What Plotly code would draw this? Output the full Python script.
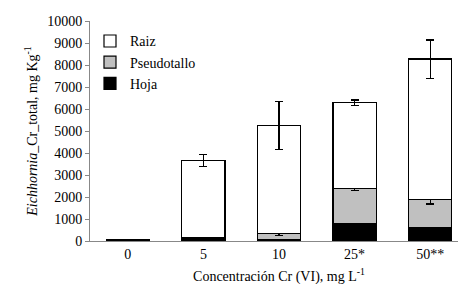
import plotly.graph_objects as go

categories = ["0", "5", "10", "25*", "50**"]
hoja = [80, 60, 50, 810, 590]
hoja_err = [0, 40, 0, 170, 200]
pseudotallo = [0, 80, 300, 1560, 1290]
pseudotallo_err = [0, 0, 110, 80, 200]
raiz = [0, 3520, 4900, 3920, 6390]
raiz_err = [0, 260, 1100, 120, 870]

font = "Times New Roman, Liberation Serif, DejaVu Serif, serif"

fig = go.Figure()
def add(name, vals, errs, color):
    fig.add_trace(go.Bar(
        x=categories, y=vals, name=name,
        marker=dict(color=color, line=dict(color="black", width=1.2)),
        error_y=dict(type="data", array=errs, visible=True, color="black",
                     thickness=1.3, width=4),
    ))

add("Hoja", hoja, hoja_err, "black")
add("Pseudotallo", pseudotallo, pseudotallo_err, "#c0c0c0")
add("Raiz", raiz, raiz_err, "white")

fig.update_layout(
    width=466, height=284,
    margin=dict(l=82, r=6, t=11, b=51),
    barmode="stack", bargap=0.43,
    paper_bgcolor="white", plot_bgcolor="white",
    font=dict(family=font, size=14, color="black"),
    showlegend=True,
    legend=dict(x=0.0, y=0.98, xanchor="left", yanchor="top",
                traceorder="reversed", font=dict(family=font, size=14),
                bgcolor="rgba(0,0,0,0)", itemwidth=30, tracegroupgap=2),
    xaxis=dict(showline=True, linecolor="#888888", linewidth=1,
               ticks="", tickfont=dict(family=font, size=14),
               title=dict(text="Concentración Cr (VI), mg L<sup>-1</sup>",
                          font=dict(family=font, size=14), standoff=10)),
    yaxis=dict(range=[0, 10000], dtick=1000, tickformat="d",
               showgrid=False, zeroline=False,
               showline=True, linecolor="#888888", linewidth=1,
               ticks="outside", ticklen=4, tickcolor="#888888",
               tickfont=dict(family=font, size=14),
               title=dict(text="<i>Eichhornia</i>_Cr_total, mg Kg<sup>-1</sup>",
                          font=dict(family=font, size=14), standoff=6)),
)

fig.write_html("out.html")
